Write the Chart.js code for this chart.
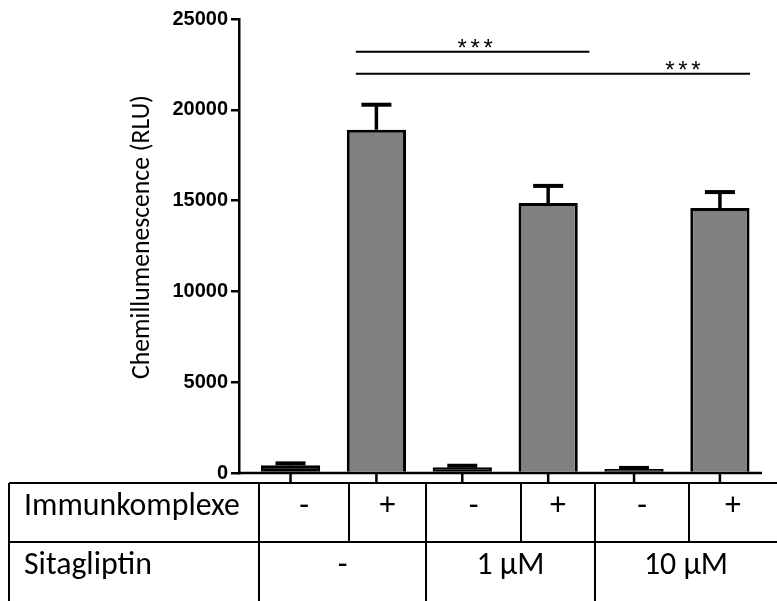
<!DOCTYPE html>
<html>
<head>
<meta charset="utf-8">
<script src="https://cdn.jsdelivr.net/npm/chart.js@4.4.0/dist/chart.umd.min.js"></script>
<style>
html, body { margin: 0; padding: 0; background: #fff; }
</style>
</head>
<body>
<canvas id="myChart" width="777" height="601"></canvas>
<script>
// values
const groups = [0, 1, 2, 3, 4, 5];
const means = [420, 18900, 320, 14870, 220, 14590];
const errors = [110, 1380, 80, 940, 60, 880];
const barColors = ['#000000', '#808080', '#000000', '#808080', '#000000', '#808080'];
const yTicks = [0, 5000, 10000, 15000, 20000, 25000];
const immunRow = ['-', '+', '-', '+', '-', '+'];
const sitaRow = ['-', '1 µM', '10 µM'];
const sigBars = [
    { from: 0.76, to: 3.48, y: 23200, labelAt: 2.15, label: '***' },
    { from: 0.76, to: 5.35, y: 21980, labelAt: 4.57, label: '***' }
];

// table grid (pixels)
const tableTop = 483, tableMid = 542, tableLeft = 9, tableRight = 777;
const row1Edges = [259, 349, 426, 521, 595, 689, 777];
const row2Edges = [259, 426, 595, 777];
const textFont = 'SIZE Carlito, Lato, sans-serif';

function fitSize(ctx, text, width, font) {
    ctx.font = font.replace('SIZE', '40px');
    return 40 * width / ctx.measureText(text).width;
}

const extras = {
    id: 'extras',
    beforeDraw(c) {
        const ctx = c.ctx;
        ctx.save();
        ctx.fillStyle = '#fff';
        ctx.fillRect(0, 0, c.width, c.height);
        ctx.restore();
    },
    afterDatasetsDraw(c) {
        const ctx = c.ctx;
        const xs = c.scales.x, ys = c.scales.y;
        const meta = c.getDatasetMeta(0);
        ctx.save();
        ctx.strokeStyle = '#000';
        // error bars
        meta.data.forEach((bar, i) => {
            const top = ys.getPixelForValue(means[i] + errors[i]);
            ctx.lineWidth = 3.5;
            ctx.beginPath();
            ctx.moveTo(bar.x, bar.y);
            ctx.lineTo(bar.x, top);
            ctx.stroke();
            ctx.lineWidth = 4;
            ctx.beginPath();
            ctx.moveTo(bar.x - 15, top);
            ctx.lineTo(bar.x + 15, top);
            ctx.stroke();
        });
        // x axis line + ticks
        const y0 = c.chartArea.bottom;
        ctx.lineWidth = 2.5;
        ctx.beginPath();
        ctx.moveTo(c.chartArea.left - 1, y0);
        ctx.lineTo(c.chartArea.right, y0);
        ctx.stroke();
        groups.forEach(g => {
            const px = xs.getPixelForValue(g);
            ctx.beginPath();
            ctx.moveTo(px, y0);
            ctx.lineTo(px, y0 + 9);
            ctx.stroke();
        });
        ctx.restore();
    },
    afterDraw(c) {
        const ctx = c.ctx;
        const xs = c.scales.x, ys = c.scales.y;
        ctx.save();
        ctx.strokeStyle = '#000';
        ctx.fillStyle = '#000';

        // significance lines
        ctx.lineWidth = 2;
        sigBars.forEach(s => {
            const py = ys.getPixelForValue(s.y);
            ctx.beginPath();
            ctx.moveTo(xs.getPixelForValue(s.from), py);
            ctx.lineTo(xs.getPixelForValue(s.to), py);
            ctx.stroke();
            ctx.font = '24px "Liberation Sans", Arial, sans-serif';
            ctx.textAlign = 'center';
            ctx.textBaseline = 'alphabetic';
            const cx = xs.getPixelForValue(s.labelAt);
            [-13, 0, 13].forEach((d, k) => ctx.fillText(s.label[k], cx + d, py + 4));
        });

        // y title
        const title = 'Chemillumenescence (RLU)';
        const tSize = fitSize(ctx, title, 284, textFont);
        ctx.font = textFont.replace('SIZE', tSize + 'px');
        ctx.translate(143, 237);
        ctx.rotate(-Math.PI / 2);
        ctx.textAlign = 'center';
        ctx.textBaseline = 'middle';
        ctx.fillText(title, 0, 0);
        ctx.setTransform(1, 0, 0, 1, 0, 0);

        // table
        ctx.lineWidth = 2;
        ctx.beginPath();
        ctx.moveTo(tableLeft, tableTop); ctx.lineTo(tableRight, tableTop);
        ctx.moveTo(tableLeft, tableMid); ctx.lineTo(tableRight, tableMid);
        ctx.moveTo(tableLeft, tableTop); ctx.lineTo(tableLeft, c.height);
        row1Edges.slice(0, -1).forEach(x => { ctx.moveTo(x, tableTop); ctx.lineTo(x, tableMid); });
        row2Edges.slice(0, -1).forEach(x => { ctx.moveTo(x, tableMid); ctx.lineTo(x, c.height); });
        ctx.stroke();

        const cSize = fitSize(ctx, 'Immunkomplexe', 216, textFont);
        ctx.font = textFont.replace('SIZE', cSize + 'px');
        ctx.textBaseline = 'alphabetic';
        ctx.textAlign = 'left';
        ctx.fillText('Immunkomplexe', 24, 515);
        ctx.fillText('Sitagliptin', 24, 574);
        ctx.textAlign = 'center';
        immunRow.forEach((t, i) => ctx.fillText(t, (row1Edges[i] + row1Edges[i + 1]) / 2, 515));
        sitaRow.forEach((t, i) => ctx.fillText(t, (row2Edges[i] + row2Edges[i + 1]) / 2, 574));
        ctx.restore();
    }
};

const chart = new Chart(document.getElementById('myChart'), {
    type: 'bar',
    data: {
        datasets: [{
            data: groups.map((g, i) => ({ x: g, y: means[i] })),
            backgroundColor: barColors,
            borderColor: '#000',
            borderWidth: 3,
            barPercentage: 0.69,
            categoryPercentage: 1
        }]
    },
    options: {
        responsive: false,
        animation: false,
        layout: { padding: { top: 19, right: 15, bottom: 128, left: 0 } },
        plugins: { legend: { display: false }, tooltip: { enabled: false } },
        scales: {
            x: {
                type: 'linear', min: -0.6, max: 5.49, offset: false, display: false,
                afterBuildTicks: s => { s.ticks = groups.map(v => ({ value: v })); }
            },
            y: {
                min: 0,
                max: 25000,
                afterFit: s => { s.width = 239; },
                afterBuildTicks: s => { s.ticks = yTicks.map(v => ({ value: v })); },
                ticks: {
                    color: '#000',
                    padding: 3,
                    font: { family: '"Liberation Sans", Arial, sans-serif', weight: 'bold', size: 20 },
                    callback: v => String(v)
                },
                grid: { drawOnChartArea: false, drawTicks: true, tickLength: 8, color: '#000', lineWidth: 2.5 },
                border: { display: true, color: '#000', width: 2.5 }
            }
        }
    },
    plugins: [extras]
});
</script>
</body>
</html>
